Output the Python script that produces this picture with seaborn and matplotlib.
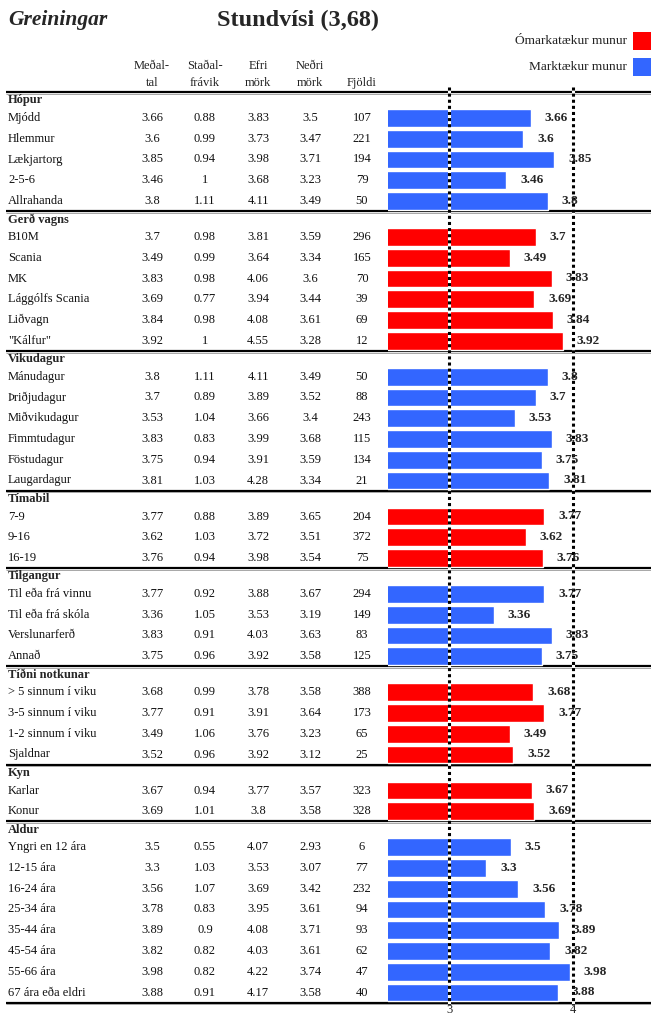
import numpy as np
import pandas as pd
import seaborn as sns
import matplotlib
matplotlib.use("Agg")
import matplotlib.pyplot as plt

# ---- data -------------------------------------------------------------
group_names = ["Hópur", "Gerð vagns", "Vikudagur", "Tímabil", "Tilgangur",
               "Tíðni notkunar", "Kyn", "Aldur"]
group_sizes = [5, 6, 6, 3, 4, 4, 2, 8]
# True = Marktækur munur (blue), False = Ómarkatækur munur (red)
group_significant = [True, False, True, False, True, False, False, True]

row_labels = [
    "Mjódd", "Hlemmur", "Lækjartorg", "2-5-6", "Allrahanda",
    "B10M", "Scania", "MK", "Lággólfs Scania", "Liðvagn", "\"Kálfur\"",
    "Mánudagur", "Þriðjudagur", "Miðvikudagur", "Fimmtudagur", "Föstudagur", "Laugardagur",
    "7-9", "9-16", "16-19",
    "Til eða frá vinnu", "Til eða frá skóla", "Verslunarferð", "Annað",
    "> 5 sinnum í viku", "3-5 sinnum í viku", "1-2 sinnum í viku", "Sjaldnar",
    "Karlar", "Konur",
    "Yngri en 12 ára", "12-15 ára", "16-24 ára", "25-34 ára", "35-44 ára",
    "45-54 ára", "55-66 ára", "67 ára eða eldri",
]
means = [3.66, 3.6, 3.85, 3.46, 3.8,
         3.7, 3.49, 3.83, 3.69, 3.84, 3.92,
         3.8, 3.7, 3.53, 3.83, 3.75, 3.81,
         3.77, 3.62, 3.76,
         3.77, 3.36, 3.83, 3.75,
         3.68, 3.77, 3.49, 3.52,
         3.67, 3.69,
         3.5, 3.3, 3.56, 3.78, 3.89, 3.82, 3.98, 3.88]
std_devs = [0.88, 0.99, 0.94, 1, 1.11,
            0.98, 0.99, 0.98, 0.77, 0.98, 1,
            1.11, 0.89, 1.04, 0.83, 0.94, 1.03,
            0.88, 1.03, 0.94,
            0.92, 1.05, 0.91, 0.96,
            0.99, 0.91, 1.06, 0.96,
            0.94, 1.01,
            0.55, 1.03, 1.07, 0.83, 0.9, 0.82, 0.82, 0.91]
upper = [3.83, 3.73, 3.98, 3.68, 4.11,
         3.81, 3.64, 4.06, 3.94, 4.08, 4.55,
         4.11, 3.89, 3.66, 3.99, 3.91, 4.28,
         3.89, 3.72, 3.98,
         3.88, 3.53, 4.03, 3.92,
         3.78, 3.91, 3.76, 3.92,
         3.77, 3.8,
         4.07, 3.53, 3.69, 3.95, 4.08, 4.03, 4.22, 4.17]
lower = [3.5, 3.47, 3.71, 3.23, 3.49,
         3.59, 3.34, 3.6, 3.44, 3.61, 3.28,
         3.49, 3.52, 3.4, 3.68, 3.59, 3.34,
         3.65, 3.51, 3.54,
         3.67, 3.19, 3.63, 3.58,
         3.58, 3.64, 3.23, 3.12,
         3.57, 3.58,
         2.93, 3.07, 3.42, 3.61, 3.71, 3.61, 3.74, 3.58]
counts = [107, 221, 194, 79, 50,
          296, 165, 70, 39, 69, 12,
          50, 88, 243, 115, 134, 21,
          204, 372, 75,
          294, 149, 83, 125,
          388, 173, 65, 25,
          323, 328,
          6, 77, 232, 94, 93, 62, 47, 40]

title = "Stundvísi (3,68)"
col_headers = [("Meðal-", "tal"), ("Staðal-", "frávik"), ("Efri", "mörk"),
               ("Neðri", "mörk"), ("", "Fjöldi")]
legend_labels = {False: "Ómarkatækur munur", True: "Marktækur munur"}
palette = {False: "#FF0000", True: "#3366FF"}

# ---- layout (figure pixels, measured from the top) ----------------------
W, H = 651, 1014
TOP_RULE = 92.0
ROW_STEP = 20.75
HEAD_TO_ROW = 26.0
ROW_TO_RULE = 10.0
COL_X = [152, 205, 258, 310, 362]
BAR_LEFT = 388

rule_y = [TOP_RULE]
header_y = []
row_y = []
y = TOP_RULE
for size in group_sizes:
    header_y.append(y + 8.5)
    first = y + HEAD_TO_ROW
    ys = [first + k * ROW_STEP for k in range(size)]
    row_y.extend(ys)
    y = ys[-1] + ROW_TO_RULE
    rule_y.append(y)
BOTTOM_RULE = rule_y[-1]

sig = np.repeat(group_significant, group_sizes)
df = pd.DataFrame({"label": row_labels, "mean": means, "sd": std_devs,
                   "upper": upper, "lower": lower, "n": counts,
                   "sig": sig, "ypos": row_y})

sns.set_theme(style="white")
plt.rcParams["font.family"] = ["Liberation Serif", "DejaVu Serif"]

fig = plt.figure(figsize=(W / 100, H / 100), dpi=100)

# table layer in pixel coordinates
tab = fig.add_axes([0, 0, 1, 1])
tab.set_xlim(0, W)
tab.set_ylim(H, 0)
tab.axis("off")

tab.text(8, 20, "Greiningar", fontsize=15.5, fontweight="bold", fontstyle="italic",
         ha="left", va="center")
tab.text(298, 20, title, fontsize=17.5, fontweight="bold", ha="center", va="center")

for (l1, l2), cx in zip(col_headers, COL_X):
    if l1:
        tab.text(cx, 66, l1, fontsize=9, ha="center", va="center", color="#222222")
    tab.text(cx, 83, l2, fontsize=9, ha="center", va="center", color="#222222")

for k, sflag in enumerate([False, True]):
    ly = 41 + 26 * k
    tab.text(627, ly, legend_labels[sflag], fontsize=9.6, ha="right", va="center",
             color="#222222")
    tab.add_patch(plt.Rectangle((633, ly - 9), 18, 18, color=palette[sflag], lw=0))

for ry in rule_y:
    tab.plot([6, W], [ry, ry], color="black", lw=1.6, solid_capstyle="butt")
    tab.plot([6, W], [ry + 1.8, ry + 1.8], color="#999999", lw=0.6,
             solid_capstyle="butt")

for name, hy in zip(group_names, header_y):
    tab.text(8, hy, name, fontsize=9, fontweight="bold", ha="left", va="center")


def fmt(v):
    return f"{v:g}"


for _, r in df.iterrows():
    tab.text(8, r.ypos, r.label, fontsize=9, ha="left", va="center", color="#111111")
    for cx, v in zip(COL_X, [r["mean"], r.sd, r.upper, r.lower, r.n]):
        tab.text(cx, r.ypos, fmt(v), fontsize=9, ha="center", va="center",
                 color="#111111")

# bar layer: value axis from 2.5, same vertical pixel scale as the table
x_lo = 2.5
px_per_unit = 123.0
x_hi = x_lo + (W - BAR_LEFT) / px_per_unit
ax = fig.add_axes([BAR_LEFT / W, (H - BOTTOM_RULE) / H,
                   (W - BAR_LEFT) / W, (BOTTOM_RULE - TOP_RULE) / H])
ax.patch.set_alpha(0)
sns.barplot(data=df, x="mean", y="ypos", hue="sig", palette=palette,
            orient="h", native_scale=True, dodge=False, errorbar=None,
            width=0.85, legend=False, ax=ax, saturation=1)
ax.set_xlim(x_lo, x_hi)
ax.set_ylim(BOTTOM_RULE, TOP_RULE)
for s in ax.spines.values():
    s.set_visible(False)
ax.set_xlabel("")
ax.set_ylabel("")
ax.set_yticks([])
ax.set_xticks([3, 4])
ax.set_xticklabels(["3", "4"])
ax.tick_params(axis="x", length=0, pad=1, labelsize=9)

for xv in (3, 4):
    ax.vlines(xv, TOP_RULE - 5, BOTTOM_RULE + 3, color="white", lw=2.2,
              clip_on=False, zorder=5)
    ax.vlines(xv, TOP_RULE - 5, BOTTOM_RULE + 3, color="black", lw=2.2,
              linestyles=(0, (1, 1)), clip_on=False, zorder=6)

for _, r in df.iterrows():
    ax.annotate(fmt(r["mean"]), xy=(r["mean"], r.ypos), xytext=(10, 0),
                textcoords="offset points", ha="left", va="center",
                fontsize=9.5, fontweight="bold", zorder=7)

fig.savefig("out.png", dpi=100)
